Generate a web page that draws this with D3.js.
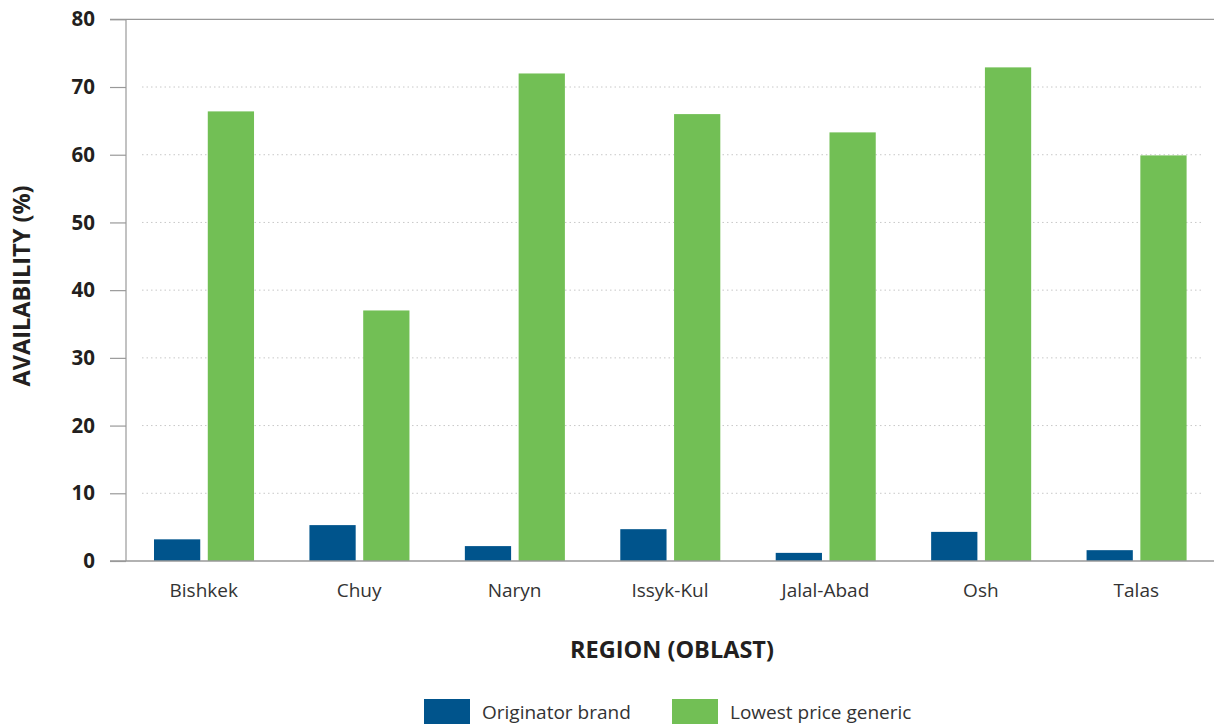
<!DOCTYPE html>
<html><head><meta charset="utf-8">
<script src="https://cdn.jsdelivr.net/npm/d3@7"></script>
<style>body{margin:0;background:#fff;} svg{display:block;font-family:"Open Sans","Noto Sans",sans-serif;} svg text{font-family:"Open Sans","Noto Sans",sans-serif;}</style>
</head><body>
<svg id="c" width="1214" height="724"></svg>
<script>
const categories = ["Bishkek","Chuy","Naryn","Issyk-Kul","Jalal-Abad","Osh","Talas"];
const seriesNames = ["Originator brand","Lowest price generic"];
const originator = [3.2, 5.3, 2.2, 4.7, 1.2, 4.3, 1.6];
const generic = [66.4, 37.0, 72.0, 66.0, 63.3, 72.9, 59.9];
const yTicks = [0,10,20,30,40,50,60,70,80];
const colors = ["#00548c","#72bf55"];

const svg = d3.select("#c");
const x0 = d3.scaleBand().domain(categories).range([126,1214]).paddingInner(0).paddingOuter(0);
const x1 = d3.scaleBand().domain(seriesNames).range([28, x0.bandwidth()-27.4]).paddingInner(0.14);
const y = d3.scaleLinear().domain([0,80]).range([561,19.3]);

// gridlines
svg.append("g").selectAll("line").data(yTicks.filter(t=>t>0&&t<80)).join("line")
  .attr("x1",142).attr("x2",1202).attr("y1",d=>y(d)).attr("y2",d=>y(d))
  .attr("stroke","#c8c8c8").attr("stroke-width",1).attr("stroke-dasharray","1.5,3");

// bars
const data = categories.map((c,i)=>({c, vals:[originator[i],generic[i]]}));
const g = svg.append("g").selectAll("g").data(data).join("g")
  .attr("transform",d=>`translate(${x0(d.c)},0)`);
g.selectAll("rect").data(d=>d.vals.map((v,j)=>({s:seriesNames[j],v,j}))).join("rect")
  .attr("x",d=>x1(d.s)).attr("width",x1.bandwidth())
  .attr("y",d=>y(d.v)).attr("height",d=>y(0)-y(d.v)).attr("fill",d=>colors[d.j]);

// top and bottom lines
svg.append("line").attr("x1",110).attr("x2",1214).attr("y1",y(80)).attr("y2",y(80)).attr("stroke","#999").attr("stroke-width",1.2);
svg.append("line").attr("x1",110).attr("x2",1214).attr("y1",y(0)).attr("y2",y(0)).attr("stroke","#999").attr("stroke-width",1.4);

// y axis
const ya = svg.append("g").attr("transform","translate(126,0)")
  .call(d3.axisLeft(y).tickValues(yTicks).tickSize(16).tickPadding(15).tickFormat(d3.format("d")));
ya.attr("font-family",null);
ya.select(".domain").attr("stroke","#999").attr("stroke-width",1.2).attr("d","M0,19.3V561");
ya.selectAll(".tick line").attr("stroke","#999").attr("stroke-width",1.2);
ya.selectAll(".tick text").attr("fill","#231f20").style("font-size","20.5px").style("font-weight","bold");

// x labels
const xa = svg.append("g").attr("transform","translate(0,561)")
  .call(d3.axisBottom(x0).tickSize(0).tickPadding(23));
xa.attr("font-family",null);
xa.select(".domain").remove();
xa.selectAll(".tick text").attr("fill","#333").style("font-size","19px");

// axis titles
svg.append("text").attr("x",672).attr("y",658).attr("text-anchor","middle")
  .style("font-size","23.5px").style("font-weight","bold").attr("fill","#231f20").text("REGION (OBLAST)");
svg.append("text").attr("transform","translate(30,286) rotate(-90)").attr("text-anchor","middle")
  .style("font-size","23.5px").style("font-weight","bold").attr("fill","#231f20").text("AVAILABILITY (%)");

// legend
const legX = [424, 672];
const lg = svg.append("g").selectAll("g").data(seriesNames).join("g")
  .attr("transform",(d,i)=>`translate(${legX[i]},699)`);
lg.append("rect").attr("width",46).attr("height",26).attr("fill",(d,i)=>colors[i]);
lg.append("text").attr("x",58).attr("y",20).style("font-size","19px").attr("fill","#333").text(d=>d);
</script>
</body></html>
